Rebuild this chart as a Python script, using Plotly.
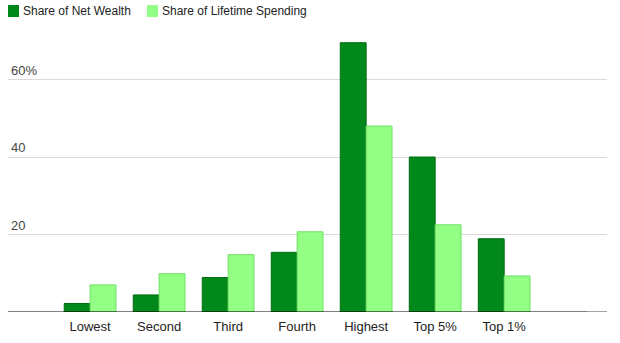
import plotly.graph_objects as go

categories = ["Lowest", "Second", "Third", "Fourth", "Highest", "Top 5%", "Top 1%"]
net_wealth = [2.2, 4.4, 8.9, 15.4, 69.5, 40.0, 18.9]
lifetime_spending = [7.0, 9.9, 14.8, 20.7, 48.0, 22.5, 9.3]
y_tick_vals = [20, 40, 60]
y_tick_text = ["20", "40", "60%"]
series_names = ["Share of Net Wealth", "Share of Lifetime Spending"]

x = list(range(len(categories)))
font = "Liberation Sans, Arial, sans-serif"
fills = ["#00891a", "#93ff85"]
borders = ["#006e12", "#6fe066"]

W, H = 620, 343
ML, MR, MT, MB = 8, 13, 35, 31
PW, PH = W - ML - MR, H - MT - MB


def px2paper_x(px):
    return (px - ML) / PW


def px2paper_y(py):
    return (H - MB - py) / PH


fig = go.Figure()
for vals, name, fc, bc in zip([net_wealth, lifetime_spending], series_names, fills, borders):
    fig.add_trace(go.Bar(
        x=x, y=vals, name=name, showlegend=False,
        marker=dict(color=fc, line=dict(color=bc, width=1)),
    ))

# manual legend (squares + text) to mimic the reference placement
shapes = []
annotations = []
legend_sq_x = [8, 147]
legend_txt_x = [23, 162]
for i, name in enumerate(series_names):
    shapes.append(dict(type="rect", xref="paper", yref="paper",
                       x0=px2paper_x(legend_sq_x[i]), x1=px2paper_x(legend_sq_x[i] + 11),
                       y0=px2paper_y(17), y1=px2paper_y(5),
                       fillcolor=fills[i], line=dict(width=0)))
    annotations.append(dict(text=name, xref="paper", yref="paper",
                            x=px2paper_x(legend_txt_x[i] - 2), y=px2paper_y(11),
                            xanchor="left", yanchor="middle", showarrow=False,
                            font=dict(size=12, color="#222")))

# baseline: black part then a dark grey tail
shapes.append(dict(type="line", xref="paper", yref="y", x0=0, x1=px2paper_x(587),
                   y0=0, y1=0, line=dict(color="#000", width=1), layer="above"))
shapes.append(dict(type="line", xref="paper", yref="y", x0=px2paper_x(587), x1=1,
                   y0=0, y1=0, line=dict(color="#444", width=1), layer="above"))

fig.update_layout(
    width=W, height=H,
    margin=dict(l=ML, r=MR, t=MT, b=MB),
    paper_bgcolor="white", plot_bgcolor="white",
    barmode="group", bargap=0.25, bargroupgap=0,
    font=dict(family=font, size=13, color="#222"),
    showlegend=False,
    xaxis=dict(
        range=[-1.19, 7.49], tickvals=x, ticktext=categories,
        showgrid=False, zeroline=False, showline=False, ticks="",
        ticklabelstandoff=5,
        tickfont=dict(size=13, color="#222"), fixedrange=True,
    ),
    yaxis=dict(
        range=[0, PH / 3.875], tickvals=y_tick_vals, ticktext=y_tick_text,
        ticklabelposition="inside top", showgrid=True, gridcolor="#d9d9d9", gridwidth=1,
        zeroline=False,
        showline=False, ticks="", tickfont=dict(size=13, color="#444"),
    ),
    shapes=shapes,
    annotations=annotations,
)

fig.write_html("out.html")
